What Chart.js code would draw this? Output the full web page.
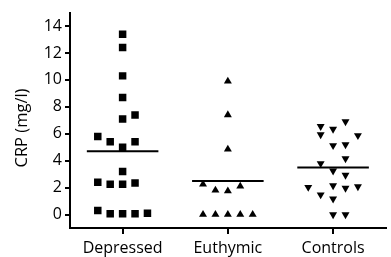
<!DOCTYPE html>
<html>
<head>
<meta charset="utf-8">
<script src="https://cdn.jsdelivr.net/npm/chart.js@4/dist/chart.umd.min.js"></script>
<style>
  html, body { margin: 0; padding: 0; background: #fff; }
  #wrap { width: 391px; height: 257px; }
</style>
</head>
<body>
<div id="wrap"><canvas id="crpChart"></canvas></div>
<script>
// CRP por grupo: pontos individuais + linha da média
const categories = ['Depressed', 'Euthymic', 'Controls'];
const yTicks = [0, 2, 4, 6, 8, 10, 12, 14];

const depressedValues = [13.4, 12.4, 10.3, 8.7, 7.1, 7.4, 5.8, 5.4, 5.0, 5.4, 3.2, 2.4, 2.25, 2.25, 2.35, 0.3, 0.05, 0.05, 0.05, 0.1];
const depressedCols   = [0, 0, 0, 0, 0, 1, -2, -1, 0, 1, 0, -2, -1, 0, 1, -2, -1, 0, 1, 2];

const euthymicValues = [9.9, 7.4, 4.85, 2.25, 1.8, 1.75, 2.1, 0, 0, 0, 0, 0];
const euthymicCols   = [0, 0, 0, -2, -1, 0, 1, -2, -1, 0, 1, 2];

const controlsValues = [6.9, 6.55, 6.35, 5.94, 5.87, 5.13, 5.2, 4.16, 3.79, 3.25, 2.93, 2.03, 2.15, 1.96, 2.07, 1.47, 1.17, 0, 0];
const controlsCols   = [1, -1, 0, -1, 2, 0, 1, 1, -1, 0, 1, -2, 0, 1, 2, -1, 0, 0, 1];

const groupMeans = [4.7, 2.5, 3.5];

const FONT = "'Open Sans', sans-serif";
const colSpacing = 0.118;
const meanHalfWidth = 0.34;

function toPoints(groupIndex, values, cols) {
  return values.map((v, i) => ({ x: groupIndex + 1 + cols[i] * colSpacing, y: v }));
}

const meanDatasets = groupMeans.map((m, i) => ({
  type: 'line',
  data: [{ x: i + 1 - meanHalfWidth, y: m }, { x: i + 1 + meanHalfWidth, y: m }],
  borderColor: '#000',
  borderWidth: 2,
  pointRadius: 0,
  fill: false
}));

const yTitlePlugin = {
  id: 'yTitle',
  afterDraw(chart) {
    const ctx = chart.ctx;
    ctx.save();
    ctx.translate(22, 128);
    ctx.rotate(-Math.PI / 2);
    ctx.font = '16.5px ' + FONT;
    ctx.fillStyle = '#000';
    ctx.textAlign = 'center';
    ctx.textBaseline = 'middle';
    ctx.fillText('CRP (mg/l)', 0, 0);
    ctx.restore();
  }
};

new Chart(document.getElementById('crpChart'), {
  type: 'scatter',
  data: {
    datasets: [
      { data: toPoints(0, depressedValues, depressedCols), pointStyle: 'rect', pointRadius: 5.3, backgroundColor: '#000', borderWidth: 0 },
      { data: toPoints(1, euthymicValues, euthymicCols), pointStyle: 'triangle', pointRadius: 4.6, backgroundColor: '#000', borderWidth: 0 },
      { data: toPoints(2, controlsValues, controlsCols), pointStyle: 'triangle', rotation: 180, pointRadius: 4.6, backgroundColor: '#000', borderWidth: 0 },
      ...meanDatasets
    ]
  },
  options: {
    responsive: true,
    maintainAspectRatio: false,
    animation: false,
    layout: { padding: { top: 10, right: 0, left: 0, bottom: 0 } },
    plugins: { legend: { display: false }, tooltip: { enabled: false } },
    scales: {
      x: {
        type: 'linear',
        min: 0.5,
        max: 3.5,
        afterBuildTicks: s => { s.ticks = categories.map((c, i) => ({ value: i + 1 })); },
        afterFit: s => { s.height = 29; },
        ticks: {
          callback: v => categories[v - 1],
          font: { family: FONT, size: 16 },
          color: '#000',
          padding: 5,
          maxRotation: 0
        },
        grid: { drawOnChartArea: false, tickLength: 6, color: '#000', lineWidth: 2 },
        border: { display: true, color: '#000', width: 2 }
      },
      y: {
        min: -1,
        max: 15,
        afterBuildTicks: s => { s.ticks = yTicks.map(v => ({ value: v })); },
        afterFit: s => { s.width = 70; },
        ticks: {
          font: { family: FONT, size: 16 },
          color: '#000',
          padding: 3
        },
        grid: { drawOnChartArea: false, tickLength: 5, color: '#000', lineWidth: 2 },
        border: { display: true, color: '#000', width: 2 }
      }
    }
  },
  plugins: [yTitlePlugin]
});
</script>
</body>
</html>
